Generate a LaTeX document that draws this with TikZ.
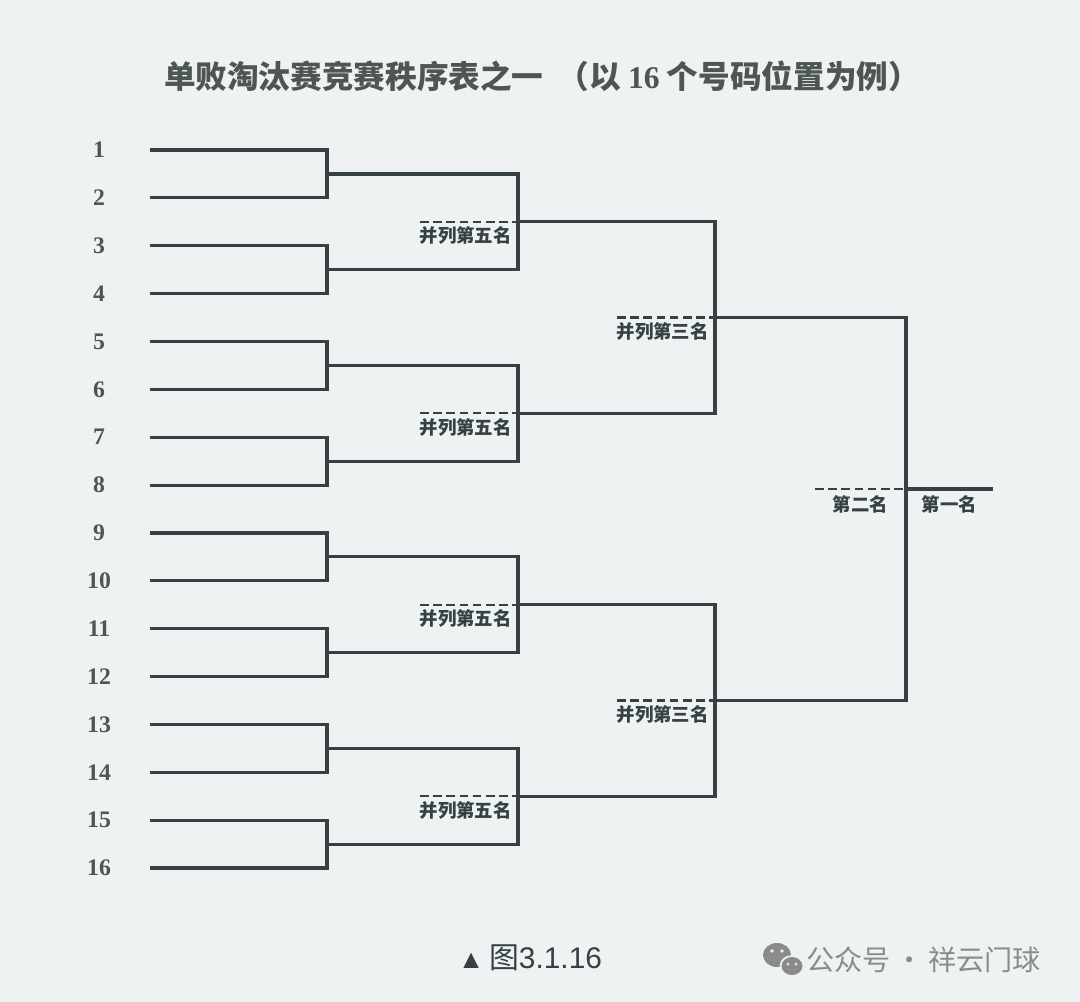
\documentclass[tikz,border=0pt]{standalone}
\usepackage{fontspec}
\setmainfont{Liberation Serif}
\newfontfamily\cjk{Noto Sans CJK SC}
\newfontfamily\capfont{Liberation Sans}
\usetikzlibrary{calc}
\definecolor{paper}{HTML}{EEF2F3}
\definecolor{ink}{HTML}{364141}
\definecolor{numgray}{HTML}{4E5555}
\definecolor{wmgray}{HTML}{8A8C8C}
\tikzset{
 bracket/.style={ink, line width=1.8pt},
 loser/.style={ink, line width=1.3pt, dash pattern=on 5pt off 2.5pt},
 num/.style={text=numgray, font=\fontsize{13.5}{15}\selectfont\bfseries},
 place/.style={text=ink, font=\cjk\fontsize{10.5}{12}\selectfont\bfseries, inner sep=1pt},
}

\begin{document}
\begin{tikzpicture}[x=0.02cm, y=-0.02cm]
\fill[paper] (0,0) rectangle (1080,1002);
\useasboundingbox (0,0) rectangle (1080,1002);
% title
\node[text=numgray, font=\cjk\fontsize{18}{20}\selectfont\bfseries] (title) at (542,76)
 {单败淘汰赛竞赛秩序表之一\hspace{8pt}（以 {\rmfamily 16} 个号码位置为例）};
% entries
\foreach \i in {1,...,16} {
 \pgfmathsetmacro\yy{150+(\i-1)*47.87}
 \node[num] (n\i) at (99,\yy) {\i};
 \coordinate (s\i) at (150,\yy);
}
% first round
\foreach \k in {1,...,8} {
 \pgfmathtruncatemacro\u{2*\k-1}
 \pgfmathtruncatemacro\v{2*\k}
 \coordinate (a\k) at ($(s\u)!0.5!(s\v)+(177,0)$);
 \draw[bracket] (s\u) -| (a\k) |- (s\v);
}
% quarter finals
\foreach \k in {1,...,4} {
 \pgfmathtruncatemacro\u{2*\k-1}
 \pgfmathtruncatemacro\v{2*\k}
 \coordinate (b\k) at ($(a\u)!0.5!(a\v)+(191,0)$);
 \coordinate (bd\k) at ($(b\k)+(-98,0)$);
 \draw[bracket] (a\u) -| (b\k) |- (a\v);
 \draw[loser] (bd\k) -- (b\k);
 \node[place, anchor=north east] (fifth\k) at ($(b\k)+(-4,3)$) {并列第五名};
}
% semi finals
\foreach \k in {1,2} {
 \pgfmathtruncatemacro\u{2*\k-1}
 \pgfmathtruncatemacro\v{2*\k}
 \coordinate (c\k) at ($(b\u)!0.5!(b\v)+(197,0)$);
 \coordinate (cd\k) at ($(c\k)+(-98,0)$);
 \draw[bracket] (b\u) -| (c\k) |- (b\v);
 \draw[loser] (cd\k) -- (c\k);
 \node[place, anchor=north east] (third\k) at ($(c\k)+(-4,3)$) {并列第三名};
}
% final
\coordinate (f) at (906,489);
\coordinate (runner) at (815,489);
\coordinate (champ) at (993,489);
\draw[bracket] (c1) -| (f) |- (c2);
\draw[bracket] (f) -- (champ);
\draw[loser] (runner) -- (f);
\node[place, anchor=north] (second) at ($(runner)!0.5!(f)+(0,4)$) {第二名};
\node[place, anchor=north] (first) at ($(f)!0.5!(champ)+(0,4)$) {第一名};
% caption
\node[text=ink, font=\fontsize{17}{19}\selectfont, inner sep=0pt] (caption) at (530,958)
 {{\capfont\fontsize{15}{16}\selectfont ▲}\,{\cjk 图}{\capfont 3.1.16}};
% watermark
\fill[wmgray] (777,955) ellipse (14 and 12);
\filldraw[wmgray, draw=paper, line width=1pt] (792,966) ellipse (11.5 and 10);
\fill[paper] (772,951) circle (1.8) (782,951) circle (1.8) (788,964) circle (1.5) (796,964) circle (1.5);
\node[anchor=west, text=wmgray, font=\cjk\fontsize{16}{18}\selectfont, inner sep=0pt] (mark) at (806,960)
 {公众号\,·\,祥云门球};
\end{tikzpicture}
\end{document}
